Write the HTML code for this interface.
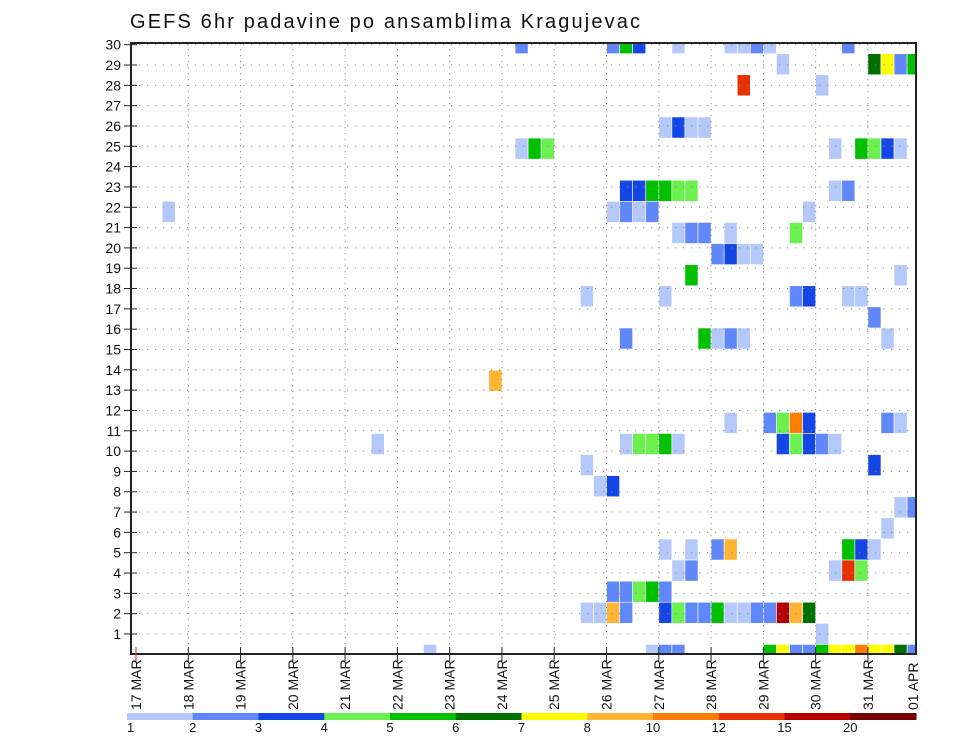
<!DOCTYPE html>
<html><head><meta charset="utf-8"><style>
html,body{margin:0;padding:0;background:#fff;}
svg{display:block;font-family:"Liberation Sans",sans-serif;}
</style></head><body>
<svg id="chart" width="960" height="742" viewBox="0 0 960 742" xmlns="http://www.w3.org/2000/svg">
<defs><clipPath id="plotclip"><rect x="131" y="43" width="785" height="611"/></clipPath></defs>
<text x="130" y="28" font-size="20" fill="#111" textLength="510" lengthAdjust="spacing">GEFS 6hr padavine po ansamblima Kragujevac</text>
<g id="cells" clip-path="url(#plotclip)"></g>
<g id="grid"></g>
<rect x="131" y="43" width="785" height="611" fill="none" stroke="#222" stroke-width="2"/>
<g id="axes"></g>
<g id="legend"></g>
</svg>
<script>
// time step index (6-hourly from 17 MAR 00Z)
const cellTime = [29,36,37,38,41,45,46,47,48,54,
 49,56,57,58,59,
 46,52,
 40,41,42,43,
 29,30,31,53,55,56,57,58,
 37,38,39,40,41,42,53,54,
 36,37,38,39,51,2,
 41,42,43,45,50,
 44,45,46,47,
 42,58,
 34,40,50,51,54,55,
 56,
 37,43,44,45,46,57,
 27,
 45,48,49,50,51,57,58,
 37,38,39,40,41,49,50,51,52,53,18,
 34,56,
 35,36,
 58,59,
 57,
 40,42,44,45,54,55,56,
 41,42,53,54,55,
 36,37,38,39,40,
 34,35,36,37,40,41,42,43,44,45,46,47,48,49,50,51,
 52,
 39,40,41,48,49,50,51,52,53,54,55,56,57,58,59,22];
// ensemble member row index
const cellMember = [29,29,29,29,29,29,29,29,29,29,
 28,28,28,28,28,
 27,27,
 25,25,25,25,
 24,24,24,24,24,24,24,24,
 22,22,22,22,22,22,22,22,
 21,21,21,21,21,21,
 20,20,20,20,20,
 19,19,19,19,
 18,18,
 17,17,17,17,17,17,
 16,
 15,15,15,15,15,15,
 13,
 11,11,11,11,11,11,11,
 10,10,10,10,10,10,10,10,10,10,10,
 9,9,
 8,8,
 7,7,
 6,
 5,5,5,5,5,5,5,
 4,4,4,4,4,
 3,3,3,3,3,
 2,2,2,2,2,2,2,2,2,2,2,2,2,2,2,2,
 1,
 0,0,0,0,0,0,0,0,0,0,0,0,0,0,0,0];
// precipitation (mm / 6h)
const cellValue = [2.5,2.5,5.5,3.5,1.5,1.5,1.5,2.5,1.5,2.5,
 1.5,6.5,7.5,2.5,5.5,
 13,1.5,
 1.5,3.5,1.5,1.5,
 1.5,5.5,4.5,1.5,5.5,4.5,3.5,1.5,
 3.5,3.5,5.5,5.5,4.5,4.5,1.5,2.5,
 1.5,2.5,1.5,2.5,1.5,1.5,
 1.5,2.5,2.5,1.5,4.5,
 2.5,3.5,1.5,1.5,
 5.5,1.5,
 1.5,1.5,2.5,3.5,1.5,1.5,
 2.5,
 2.5,5.5,1.5,2.5,1.5,1.5,
 9,
 1.5,2.5,4.5,11,3.5,2.5,1.5,
 1.5,4.5,4.5,5.5,1.5,3.5,4.5,3.5,2.5,1.5,1.5,
 1.5,3.5,
 1.5,3.5,
 1.5,2.5,
 1.5,
 1.5,1.5,2.5,9,5.5,3.5,1.5,
 1.5,2.5,1.5,13,4.5,
 2.5,2.5,4.5,5.5,2.5,
 1.5,1.5,9,2.5,3.5,4.5,2.5,2.5,5.5,1.5,1.5,2.5,2.5,17,9,6.5,
 1.5,
 1.5,2.5,2.5,5.5,7.5,2.5,2.5,5.5,7.5,7.5,11,7.5,7.5,6.5,2.5,1.5];
const levels = [1,2,3,4,5,6,7,8,10,12,15,20];
const colors = ["#b4c8fa","#6088fa","#1446e6","#6cf050","#00c000","#007000","#ffff00","#ffb432","#ff7d00","#e63200","#b40000","#780000"];
const dayLabels = ["17 MAR","18 MAR","19 MAR","20 MAR","21 MAR","22 MAR","23 MAR","24 MAR","25 MAR","26 MAR","27 MAR","28 MAR","29 MAR","30 MAR","31 MAR","01 APR"];
const memberTicks = [1,2,3,4,5,6,7,8,9,10,11,12,13,14,15,16,17,18,19,20,21,22,23,24,25,26,27,28,29,30];

const NS="http://www.w3.org/2000/svg";
function mk(tag,attrs,parent){const e=document.createElementNS(NS,tag);for(const k in attrs)e.setAttribute(k,attrs[k]);parent.appendChild(e);return e;}
const X0=136, STEP=13.07, DAY=STEP*4;
function xScale(i){return X0+STEP*i;}
const CH=21.1;
function cellY(k){return 655-CH*k;}
function yLabel(r){return 654.3-20.32*r;}
function colorFor(v){let c=0;for(let j=0;j<levels.length;j++){if(v>=levels[j])c=j;}return colors[c];}

const cellsG=document.getElementById('cells');
for(let n=0;n<cellTime.length;n++){
  const r=mk('rect',{x:xScale(cellTime[n]),y:cellY(cellMember[n])-CH/2,width:STEP,height:CH,fill:colorFor(cellValue[n]),stroke:"#fff","stroke-width":0.6},cellsG);
  
  
}
const gridG=document.getElementById('grid');
for(const r of memberTicks){
  const l=mk('line',{x1:131,x2:916,y1:yLabel(r),y2:yLabel(r),stroke:"#888","stroke-width":1,"stroke-dasharray":"1.2 6.8"},gridG);
  
  
}
for(let d=1;d<dayLabels.length;d++){
  const x=X0+DAY*d; if(x>916)continue;
  const l=mk('line',{x1:x,x2:x,y1:43,y2:654,stroke:"#888","stroke-width":1,"stroke-dasharray":"1.2 4.8"},gridG);
  
  
}
const axG=document.getElementById('axes');
for(const r of memberTicks){
  const y=yLabel(r);
  const t=mk('line',{x1:124,x2:137,y1:y,y2:y,stroke:"#222","stroke-width":1},axG);
  
  
  const tx=mk('text',{x:121,y:y+5,"text-anchor":"end","font-size":14,fill:"#111"},axG);
  tx.textContent=r;
  
  
}
for(let d=0;d<dayLabels.length;d++){
  const x=Math.min(X0+DAY*d,913);
  if(X0+DAY*d<=916){
    const t=mk('line',{x1:x,x2:x,y1:647,y2:661,stroke:d===0?"#c33":"#222","stroke-width":1},axG);
    
    
  }
  const tx=mk('text',{x:0,y:0,"font-size":14,fill:"#111",transform:`translate(${x+5},710) rotate(-90)`},axG);
  tx.textContent=dayLabels[d];
  
  
}
const lg=document.getElementById('legend');
const LX=127, LW=(916-127)/levels.length;
for(let j=0;j<levels.length;j++){
  const r=mk('rect',{x:LX+LW*j,y:713,width:LW+0.5,height:7,fill:colors[j]},lg);
  
  
  const t=mk('text',{x:LX+LW*j,y:732,"text-anchor":j===0?"start":"middle","font-size":13,fill:"#111"},lg);
  t.textContent=levels[j];
  
  
}
</script>
</body></html>
